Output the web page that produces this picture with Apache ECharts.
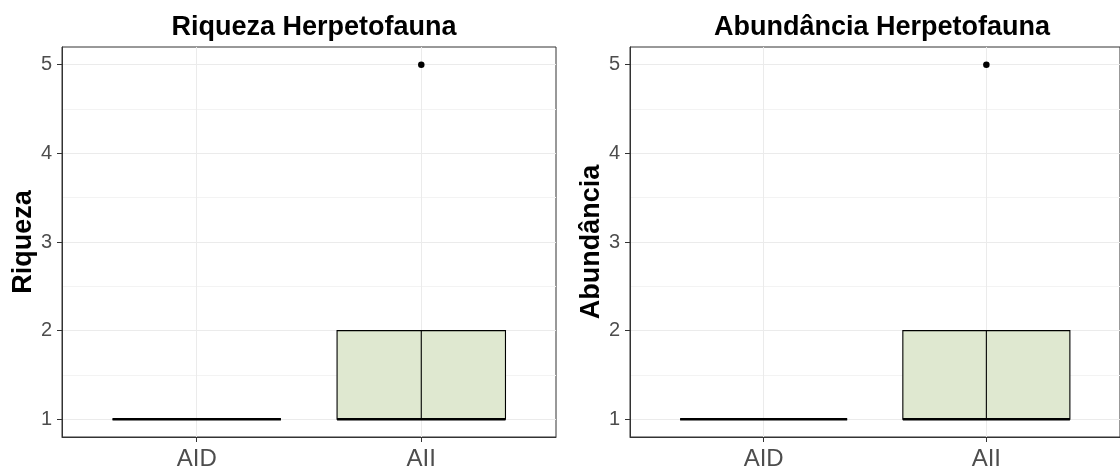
<!DOCTYPE html>
<html>
<head>
<meta charset="utf-8">
<script src="https://cdn.jsdelivr.net/npm/echarts@6/dist/echarts.min.js"></script>
<style>
html,body{margin:0;padding:0;background:#fff;}
#chart{width:1120px;height:474px;}
</style>
</head>
<body>
<div id="chart"></div>
<script>
// ---- data ----
const categories = ['AID', 'AII'];
const panelTitles = ['Riqueza Herpetofauna', 'Abundância Herpetofauna'];
const yTitles = ['Riqueza', 'Abundância'];
// [min, Q1, median, Q3, max] per category
const riquezaBox = [[1, 1, 1, 1, 1], [1, 1, 1, 2, 2]];
const abundanciaBox = [[1, 1, 1, 1, 1], [1, 1, 1, 2, 2]];
// outliers: [category position (1-based), value]
const riquezaOutliers = [[2, 5]];
const abundanciaOutliers = [[2, 5]];
const yTicks = [1, 2, 3, 4, 5];
const yMinorTicks = [1.5, 2.5, 3.5, 4.5];
const xTicks = [1, 2];

const FONT = 'Liberation Sans, Arial, sans-serif';
const panels = [
  { box: riquezaBox, out: riquezaOutliers, left: 62 },
  { box: abundanciaBox, out: abundanciaOutliers, left: 630 }
];
const PW = 494, PT = 47, PH = 390;

const grids = [], xAxes = [], yAxes = [], series = [], titles = [];
panels.forEach((p, i) => {
  grids.push({ left: p.left, top: PT, width: PW, height: PH, show: true,
    borderColor: '#333333', borderWidth: 1, backgroundColor: '#ffffff', containLabel: false });
  titles.push({ text: panelTitles[i], left: p.left + PW / 2, top: 9, textAlign: 'center',
    textStyle: { fontFamily: FONT, fontWeight: 'bold', fontSize: 27, color: '#000' } });
  xAxes.push({ type: 'value', gridIndex: i, min: 0.4, max: 2.6,
    axisLine: { show: true, lineStyle: { color: '#333333', width: 1 } },
    axisTick: { show: true, customValues: xTicks, length: 5, lineStyle: { color: '#333333', width: 1 } },
    axisLabel: { customValues: xTicks, formatter: v => categories[Math.round(v) - 1] || '',
      fontFamily: FONT, fontSize: 24, color: '#4D4D4D', margin: 10 },
    splitLine: { show: true, lineStyle: { color: '#EBEBEB', width: 1 } } });
  yAxes.push({ type: 'value', gridIndex: i, min: 0.8, max: 5.2,
    name: yTitles[i], nameLocation: 'middle', nameRotate: 90, nameGap: 25,
    nameTextStyle: { fontFamily: FONT, fontWeight: 'bold', fontSize: 27, color: '#000' },
    axisLine: { show: true, lineStyle: { color: '#333333', width: 1 } },
    axisTick: { show: true, customValues: yTicks, length: 5, lineStyle: { color: '#333333', width: 1 } },
    axisLabel: { customValues: yTicks, fontFamily: FONT, fontSize: 20, color: '#4D4D4D', margin: 10 },
    splitLine: { show: true, lineStyle: { color: '#EBEBEB', width: 1 } } });
  yAxes.push({ type: 'value', gridIndex: i, min: 0.8, max: 5.2,
    axisLine: { show: false }, axisLabel: { show: false },
    axisTick: { show: false, customValues: yMinorTicks },
    splitLine: { show: true, lineStyle: { color: '#F3F3F3', width: 1 } } });
  series.push({
    type: 'custom', xAxisIndex: i, yAxisIndex: i * 2, z: 5,
    data: p.box.map((b, k) => [k + 1].concat(b)),
    renderItem: function (params, api) {
      const x = api.value(0);
      const mn = api.value(1), q1 = api.value(2), md = api.value(3), q3 = api.value(4), mx = api.value(5);
      const hw = api.size([0.75, 0])[0] / 2;
      const pq1 = api.coord([x, q1]), pq3 = api.coord([x, q3]);
      const pmd = api.coord([x, md]), pmn = api.coord([x, mn]), pmx = api.coord([x, mx]);
      const cx = pq1[0];
      const children = [];
      if (mx > q3) children.push({ type: 'line', shape: { x1: cx, y1: pq3[1], x2: cx, y2: pmx[1] }, style: { stroke: '#000', lineWidth: 1.1 } });
      if (mn < q1) children.push({ type: 'line', shape: { x1: cx, y1: pq1[1], x2: cx, y2: pmn[1] }, style: { stroke: '#000', lineWidth: 1.1 } });
      const fill = (q3 > q1) ? '#DFE8D0' : 'none';
      children.push({ type: 'rect', shape: { x: cx - hw, y: pq3[1], width: 2 * hw, height: pq1[1] - pq3[1] },
        style: { fill: fill, stroke: '#000', lineWidth: 1.1 } });
      if (q3 > q1) children.push({ type: 'line', shape: { x1: cx, y1: pq1[1], x2: cx, y2: pq3[1] }, style: { stroke: '#000', lineWidth: 1.1 } });
      children.push({ type: 'line', shape: { x1: cx - hw, y1: pmd[1], x2: cx + hw, y2: pmd[1] }, style: { stroke: '#000', lineWidth: 2.4 } });
      return { type: 'group', children: children };
    }
  });
  series.push({ type: 'scatter', xAxisIndex: i, yAxisIndex: i * 2, z: 6,
    data: p.out, symbol: 'circle', symbolSize: 6.5, itemStyle: { color: '#000', opacity: 1 }, silent: true });
});

const chart = echarts.init(document.getElementById('chart'), null, { renderer: 'canvas' });
chart.setOption({
  animation: false,
  backgroundColor: '#ffffff',
  title: titles,
  grid: grids,
  xAxis: xAxes,
  yAxis: yAxes,
  series: series
});
</script>
</body>
</html>
